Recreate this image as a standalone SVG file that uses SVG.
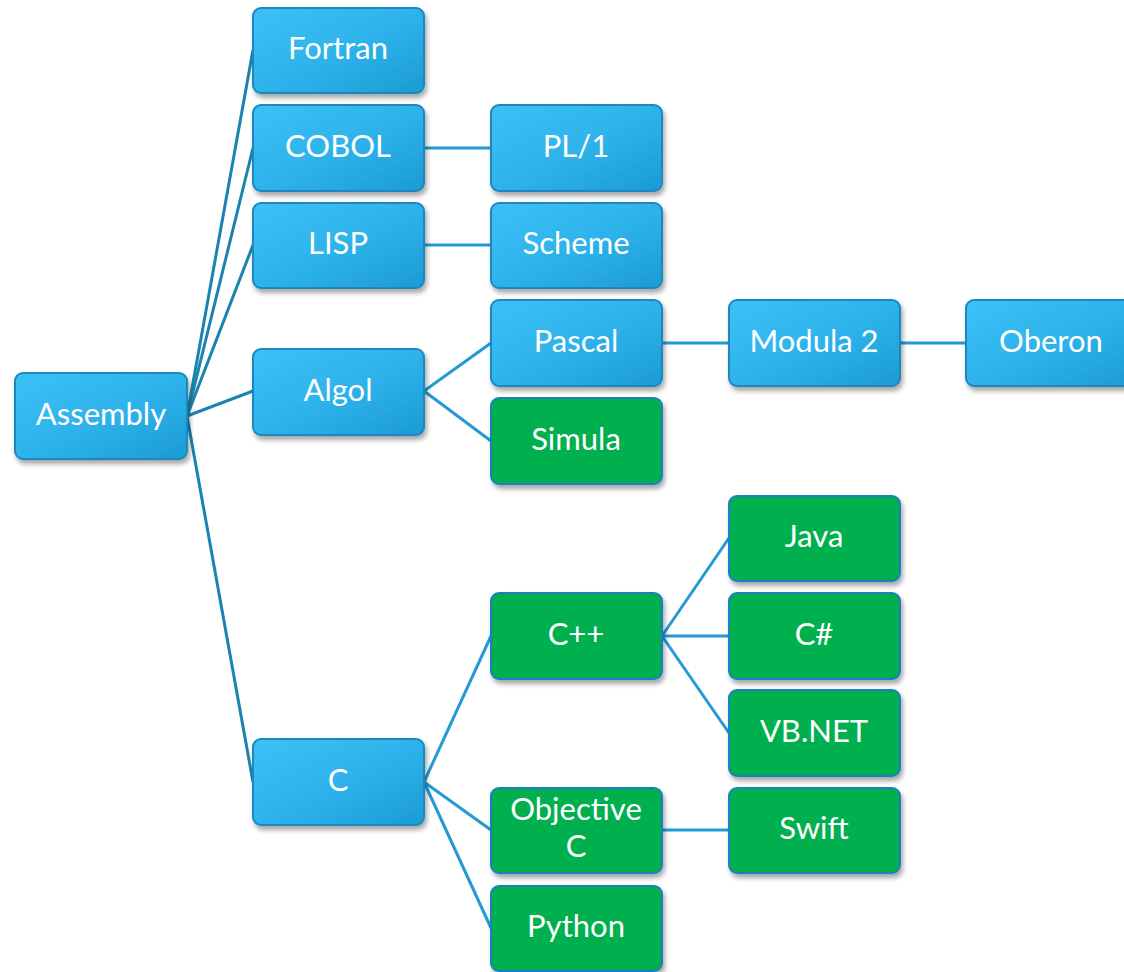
<svg xmlns="http://www.w3.org/2000/svg" width="1124" height="972" viewBox="0 0 1124 972">
  <defs>
    <linearGradient id="blueFill" x1="0" y1="0" x2="1" y2="1">
      <stop offset="0" stop-color="#3cc1f7"/>
      <stop offset="0.55" stop-color="#2db1ea"/>
      <stop offset="1" stop-color="#1b9bd3"/>
    </linearGradient>
    <filter id="shadow" x="-10%" y="-10%" width="125%" height="135%">
      <feGaussianBlur in="SourceAlpha" stdDeviation="2.5"/>
      <feOffset dx="2" dy="4" result="b"/>
      <feComponentTransfer><feFuncA type="linear" slope="0.35"/></feComponentTransfer>
      <feMerge><feMergeNode/><feMergeNode in="SourceGraphic"/></feMerge>
    </filter>
  </defs>
  <style>
    .box { stroke-width: 2; filter: url(#shadow); }
    .blue { fill: url(#blueFill); stroke: #1a88bd; }
    .green { fill: #00b050; stroke: #1d7fc2; }
    .lbl { font-family: Lato, "Noto Sans", "Liberation Sans", sans-serif; font-size: 31px; fill: #ffffff; text-anchor: middle; dominant-baseline: central; }
    .c1 { stroke: #1a84af; stroke-width: 3; fill: none; }
    .c2 { stroke: #2399d6; stroke-width: 3; fill: none; }
  </style>
  <rect width="1124" height="972" fill="#ffffff"/>

  <!-- connectors -->
  <g id="connectors">
    <line class="c1" x1="187" y1="416" x2="253" y2="50"/>
    <line class="c1" x1="187" y1="416" x2="253" y2="148"/>
    <line class="c1" x1="187" y1="416" x2="253" y2="245"/>
    <line class="c1" x1="187" y1="416" x2="253" y2="391"/>
    <line class="c1" x1="187" y1="416" x2="253" y2="782"/>
    <line class="c2" x1="424" y1="148" x2="491" y2="148"/>
    <line class="c2" x1="424" y1="245" x2="491" y2="245"/>
    <line class="c2" x1="424" y1="391" x2="491" y2="343"/>
    <line class="c2" x1="424" y1="391" x2="491" y2="441"/>
    <line class="c2" x1="662" y1="343" x2="729" y2="343"/>
    <line class="c2" x1="900" y1="343" x2="966" y2="343"/>
    <line class="c2" x1="424" y1="782" x2="491" y2="636"/>
    <line class="c2" x1="424" y1="782" x2="491" y2="830"/>
    <line class="c2" x1="424" y1="782" x2="491" y2="928"/>
    <line class="c2" x1="662" y1="636" x2="729" y2="538"/>
    <line class="c2" x1="662" y1="636" x2="729" y2="636"/>
    <line class="c2" x1="662" y1="636" x2="729" y2="733"/>
    <line class="c2" x1="662" y1="830" x2="729" y2="830"/>
  </g>

  <!-- nodes -->
  <g id="assembly"><rect class="box blue" x="15" y="373" width="172" height="86" rx="8"/><text class="lbl" x="101" y="413">Assembly</text></g>

  <g id="fortran"><rect class="box blue" x="253" y="8" width="171" height="85" rx="8"/><text class="lbl" x="338" y="47">Fortran</text></g>
  <g id="cobol"><rect class="box blue" x="253" y="105" width="171" height="86" rx="8"/><text class="lbl" x="338" y="145">COBOL</text></g>
  <g id="lisp"><rect class="box blue" x="253" y="203" width="171" height="85" rx="8"/><text class="lbl" x="338" y="242">LISP</text></g>
  <g id="algol"><rect class="box blue" x="253" y="349" width="171" height="86" rx="8"/><text class="lbl" x="338" y="389">Algol</text></g>
  <g id="c"><rect class="box blue" x="253" y="739" width="171" height="86" rx="8"/><text class="lbl" x="338" y="779">C</text></g>

  <g id="pl1"><rect class="box blue" x="491" y="105" width="171" height="86" rx="8"/><text class="lbl" x="576" y="145">PL/1</text></g>
  <g id="scheme"><rect class="box blue" x="491" y="203" width="171" height="85" rx="8"/><text class="lbl" x="576" y="242">Scheme</text></g>
  <g id="pascal"><rect class="box blue" x="491" y="300" width="171" height="86" rx="8"/><text class="lbl" x="576" y="340">Pascal</text></g>
  <g id="simula"><rect class="box green" x="491" y="398" width="171" height="86" rx="8"/><text class="lbl" x="576" y="438">Simula</text></g>
  <g id="cpp"><rect class="box green" x="491" y="593" width="171" height="86" rx="8"/><text class="lbl" x="576" y="633">C++</text></g>
  <g id="objective-c"><rect class="box green" x="491" y="788" width="171" height="85" rx="8"/><text class="lbl" x="576" y="808">Objective</text><text class="lbl" x="576" y="845">C</text></g>
  <g id="python"><rect class="box green" x="491" y="886" width="171" height="85" rx="8"/><text class="lbl" x="576" y="925">Python</text></g>

  <g id="modula2"><rect class="box blue" x="729" y="300" width="171" height="86" rx="8"/><text class="lbl" x="814" y="340">Modula 2</text></g>
  <g id="java"><rect class="box green" x="729" y="496" width="171" height="85" rx="8"/><text class="lbl" x="814" y="535">Java</text></g>
  <g id="csharp"><rect class="box green" x="729" y="593" width="171" height="86" rx="8"/><text class="lbl" x="814" y="633">C#</text></g>
  <g id="vbnet"><rect class="box green" x="729" y="690" width="171" height="86" rx="8"/><text class="lbl" x="814" y="730">VB.NET</text></g>
  <g id="swift"><rect class="box green" x="729" y="788" width="171" height="85" rx="8"/><text class="lbl" x="814" y="827">Swift</text></g>

  <g id="oberon"><rect class="box blue" x="966" y="300" width="171" height="86" rx="8"/><text class="lbl" x="1051" y="340">Oberon</text></g>
</svg>
